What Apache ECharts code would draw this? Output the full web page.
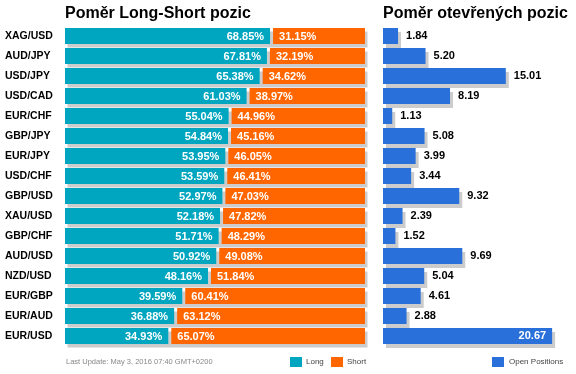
<!DOCTYPE html>
<html><head><meta charset="utf-8">
<script src="https://cdn.jsdelivr.net/npm/echarts@6/dist/echarts.min.js"></script>
<style>html,body{margin:0;padding:0;background:#fff}#c{width:576px;height:374px}</style>
</head><body><div id="c"></div>
<script>
const pairs = ['XAG/USD','AUD/JPY','USD/JPY','USD/CAD','EUR/CHF','GBP/JPY','EUR/JPY','USD/CHF','GBP/USD','XAU/USD','GBP/CHF','AUD/USD','NZD/USD','EUR/GBP','EUR/AUD','EUR/USD'];
const longPct = [68.85,67.81,65.38,61.03,55.04,54.84,53.95,53.59,52.97,52.18,51.71,50.92,48.16,39.59,36.88,34.93];
const shortPct = [31.15,32.19,34.62,38.97,44.96,45.16,46.05,46.41,47.03,47.82,48.29,49.08,51.84,60.41,63.12,65.07];
const openPos = [1.84,5.20,15.01,8.19,1.13,5.08,3.99,3.44,9.32,2.39,1.52,9.69,5.04,4.61,2.88,20.67];

const TEAL = '#00a6bf', ORANGE = '#ff6600', BLUE = '#2a70da', SHADOW = '#cccccc';
const FONT = 'Liberation Sans, Arial, sans-serif';

const chart = echarts.init(document.getElementById('c'));

function renderLS(params, api) {
  const cat = api.value(1);
  const lv = api.value(0), sv = api.value(2);
  const p0 = api.coord([0, cat]);
  const p1 = api.coord([lv, cat]);
  const p2 = api.coord([lv + sv, cat]);
  const h = 16, y = p0[1] - h / 2, g = 1.5;
  return {
    type: 'group',
    children: [
      {type: 'rect', shape: {x: p0[0] + 2.5, y: y + 3.5, width: p2[0] - p0[0], height: h}, style: {fill: SHADOW}},
      {type: 'rect', shape: {x: p0[0], y: y, width: p1[0] - p0[0] - g, height: h}, style: {fill: TEAL}},
      {type: 'rect', shape: {x: p1[0] + g, y: y, width: p2[0] - p1[0] - g, height: h}, style: {fill: ORANGE}},
      {type: 'text', style: {text: lv.toFixed(2) + '%', x: p1[0] - g - 6, y: p0[1] + 0.5, align: 'right', verticalAlign: 'middle', fill: '#fff', fontSize: 11, fontWeight: 'bold', fontFamily: FONT}},
      {type: 'text', style: {text: sv.toFixed(2) + '%', x: p1[0] + g + 6, y: p0[1] + 0.5, align: 'left', verticalAlign: 'middle', fill: '#fff', fontSize: 11, fontWeight: 'bold', fontFamily: FONT}}
    ]
  };
}

const openData = openPos.map(v => v > 18 ? {
  value: v,
  label: {position: 'insideRight', color: '#fff', distance: 6}
} : v);

chart.setOption({
  animation: false,
  title: [
    {text: 'Poměr Long-Short pozic', left: 65, top: 6, padding: 0, textStyle: {fontSize: 16, fontWeight: 'bold', color: '#000', fontFamily: FONT}},
    {text: 'Poměr otevřených pozic', left: 383, top: 6, padding: 0, textStyle: {fontSize: 16, fontWeight: 'bold', color: '#000', fontFamily: FONT}}
  ],
  grid: [
    {left: 65, top: 26, width: 300, height: 320},
    {left: 383, top: 26, width: 180, height: 320}
  ],
  xAxis: [
    {gridIndex: 0, type: 'value', min: 0, max: 100, show: false},
    {gridIndex: 1, type: 'value', min: 0, max: 22, show: false}
  ],
  yAxis: [
    {gridIndex: 0, type: 'category', data: pairs, inverse: true,
     axisLine: {show: false}, axisTick: {show: false}, splitLine: {show: false},
     axisLabel: {align: 'left', margin: 60, color: '#000', fontSize: 10.5, fontWeight: 'bold', fontFamily: FONT}},
    {gridIndex: 1, type: 'category', data: pairs, inverse: true, show: false}
  ],
  series: [
    {type: 'custom', xAxisIndex: 0, yAxisIndex: 0, renderItem: renderLS,
     encode: {x: 0, y: 1},
     data: pairs.map((p, i) => [longPct[i], i, shortPct[i]])},
    {type: 'bar', xAxisIndex: 1, yAxisIndex: 1, name: 'Open Positions', data: openData, barWidth: 16,
     itemStyle: {color: BLUE, shadowColor: SHADOW, shadowBlur: 0, shadowOffsetX: 3, shadowOffsetY: 4},
     label: {show: true, position: 'right', distance: 8, color: '#000', fontSize: 11, fontWeight: 'bold', fontFamily: FONT,
             formatter: p => p.value.toFixed(2)}}
  ],
  graphic: [
    {type: 'text', left: 66, top: 358, style: {text: 'Last Update: May 3, 2016 07:40 GMT+0200', fill: '#888', fontSize: 7.5, fontFamily: FONT}},
    {type: 'rect', left: 290, top: 357, shape: {width: 12, height: 10}, style: {fill: TEAL}},
    {type: 'text', left: 306, top: 358, style: {text: 'Long', fill: '#444', fontSize: 8, fontFamily: FONT}},
    {type: 'rect', left: 331, top: 357, shape: {width: 12, height: 10}, style: {fill: ORANGE}},
    {type: 'text', left: 347, top: 358, style: {text: 'Short', fill: '#444', fontSize: 8, fontFamily: FONT}},
    {type: 'rect', left: 492, top: 357, shape: {width: 12, height: 10}, style: {fill: BLUE}},
    {type: 'text', left: 509, top: 358, style: {text: 'Open Positions', fill: '#444', fontSize: 8, fontFamily: FONT}}
  ]
});
</script></body></html>
